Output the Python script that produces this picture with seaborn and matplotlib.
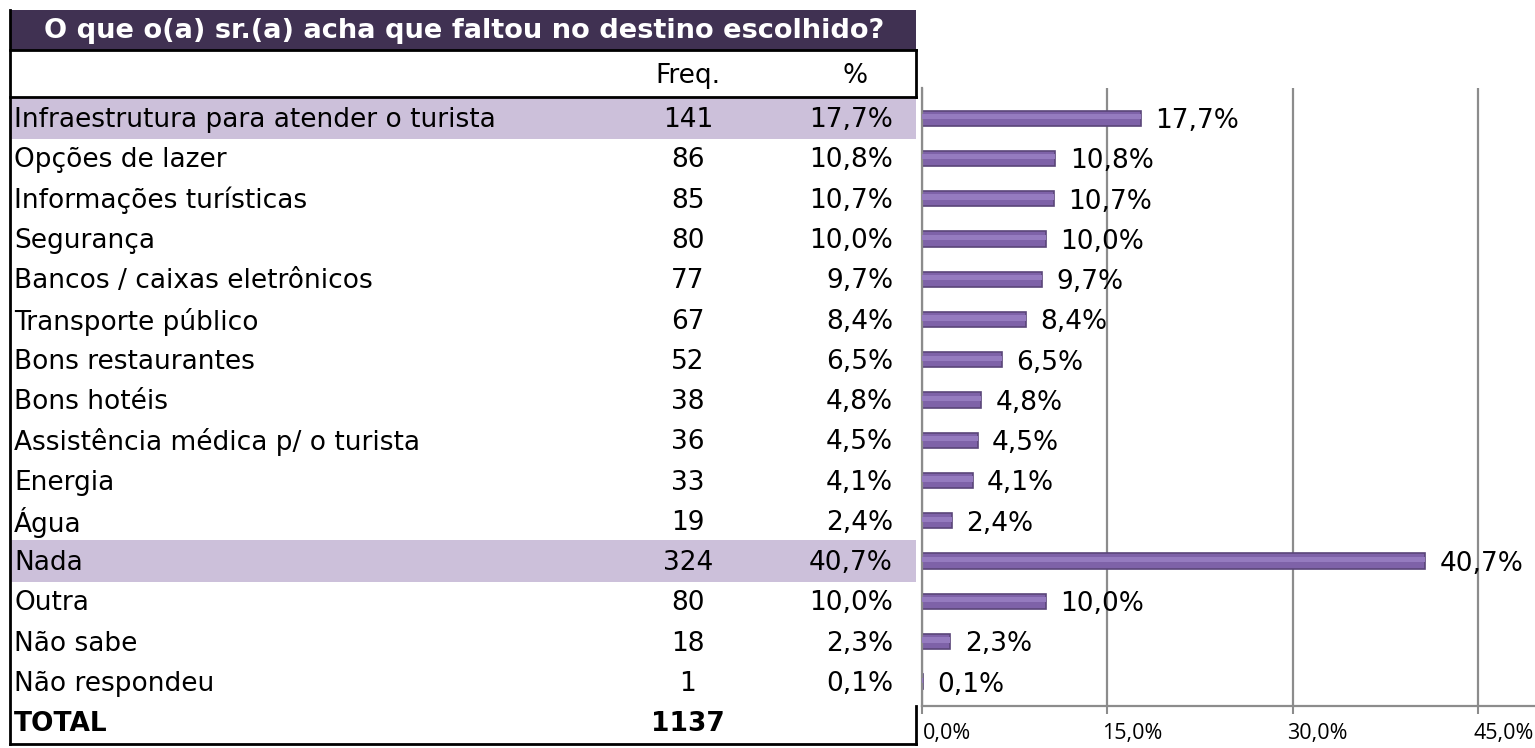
import matplotlib
matplotlib.use("Agg")
import matplotlib.pyplot as plt
import matplotlib.transforms as mtransforms
from matplotlib.patches import Rectangle
import seaborn as sns

# Dados da tabela / gráfico
titulo = "O que o(a) sr.(a) acha que faltou no destino escolhido?"
categorias = [
    "Infraestrutura para atender o turista",
    "Opções de lazer",
    "Informações turísticas",
    "Segurança",
    "Bancos / caixas eletrônicos",
    "Transporte público",
    "Bons restaurantes",
    "Bons hotéis",
    "Assistência médica p/ o turista",
    "Energia",
    "Água",
    "Nada",
    "Outra",
    "Não sabe",
    "Não respondeu",
]
freq = [141, 86, 85, 80, 77, 67, 52, 38, 36, 33, 19, 324, 80, 18, 1]
pct = [17.7, 10.8, 10.7, 10.0, 9.7, 8.4, 6.5, 4.8, 4.5, 4.1, 2.4, 40.7, 10.0, 2.3, 0.1]
total = 1137
destaque = ["Infraestrutura para atender o turista", "Nada"]
ticks_x = [0, 15, 30, 45]


def fmt(v):
    return f"{v:.1f}%".replace(".", ",")


W, H = 1535, 748
ROW0, ROW_H = 118.2, 40.26
ROXO_ESCURO = "#403152"
LILAS = "#CCC0DA"
BARRA = "#7E62A8"
BARRA_LUZ = "#957BBF"
BARRA_BORDA = "#5A4679"
CINZA = "#8C8C8C"

sns.set_theme(style="white")
plt.rcParams["font.family"] = ["DejaVu Sans"]
plt.rcParams["text.color"] = "black"
plt.rcParams["xtick.color"] = "black"

fig = plt.figure(figsize=(W / 100, H / 100), dpi=100)

# --- Tabela (eixo em pixels) ---
tab = fig.add_axes([0, 0, 1, 1])
tab.set_xlim(0, W)
tab.set_ylim(H, 0)
tab.axis("off")

tab.add_patch(Rectangle((10, 10), 906, 40, color=ROXO_ESCURO, lw=0))
tab.text(464, 31, titulo, ha="center", va="center", color="white",
         fontsize=19.6, fontweight="bold")
tab.text(688, 76, "Freq.", ha="center", va="center", fontsize=19)
tab.text(855, 76, "%", ha="center", va="center", fontsize=19)

for i, (cat, f, p) in enumerate(zip(categorias, freq, pct)):
    y = ROW0 + ROW_H * i
    if cat in destaque:
        tab.add_patch(Rectangle((10, y - 21), 906, 42, color=LILAS, lw=0))
    tab.text(14, y + 2, cat, ha="left", va="center", fontsize=19)
    tab.text(688, y + 2, str(f), ha="center", va="center", fontsize=19)
    tab.text(893, y + 2, fmt(p), ha="right", va="center", fontsize=19)

y_tot = ROW0 + ROW_H * len(categorias)
tab.text(14, y_tot + 2, "TOTAL", ha="left", va="center", fontsize=19, fontweight="bold")
tab.text(688, y_tot + 2, str(total), ha="center", va="center", fontsize=19, fontweight="bold")

# bordas
kw = dict(color="black", lw=2, solid_capstyle="projecting")
tab.plot([10, 10], [10, 744], **kw)
tab.plot([10, 916], [50, 50], **kw)
tab.plot([10, 916], [97, 97], **kw)
tab.plot([916, 916], [50, 97], **kw)
tab.plot([10, 916], [744, 744], **kw)
tab.plot([916, 916], [706, 744], **kw)

# --- Gráfico de barras ---
ax = fig.add_axes([922 / W, 1 - 706 / H, (W - 922) / W, (706 - 88) / H])
ax.set_facecolor("none")
df = {"categoria": categorias, "pct": pct}
sns.barplot(data=df, x="pct", y="categoria", orient="h", ax=ax, color=BARRA,
            width=0.38, edgecolor=BARRA_BORDA, linewidth=1.2, saturation=1)
# brilho do cilindro
ax.barh([i - 0.04 for i in range(len(pct))], pct, height=0.13,
        color=BARRA_LUZ, lw=0, zorder=3)

for i, p in enumerate(pct):
    ax.text(p + 1.15, i + 0.07, fmt(p), ha="left", va="center", fontsize=19)

ax.set_xlim(0, (W - 922) / 12.36)
ax.set_ylim(14.6, -0.75)
ax.set_xticks(ticks_x)
ax.set_xticklabels([fmt(t) for t in ticks_x], fontsize=15.5,
                   family=["Open Sans", "DejaVu Sans"])
ax.xaxis.grid(True, color=CINZA, lw=1.6)
ax.set_axisbelow(True)
ax.set_xlabel("")
ax.set_ylabel("")
ax.tick_params(axis="y", left=False, labelleft=False)
ax.tick_params(axis="x", bottom=True, length=6, width=1.5, color=CINZA, pad=6)
for lbl in ax.get_xticklabels():
    lbl.set_transform(lbl.get_transform() +
                      mtransforms.ScaledTranslation(0.25, 0, fig.dpi_scale_trans))
for s in ["top", "right"]:
    ax.spines[s].set_visible(False)
for s in ["left", "bottom"]:
    ax.spines[s].set_color(CINZA)
    ax.spines[s].set_linewidth(1.6)

fig.savefig("out.png", dpi=100)
